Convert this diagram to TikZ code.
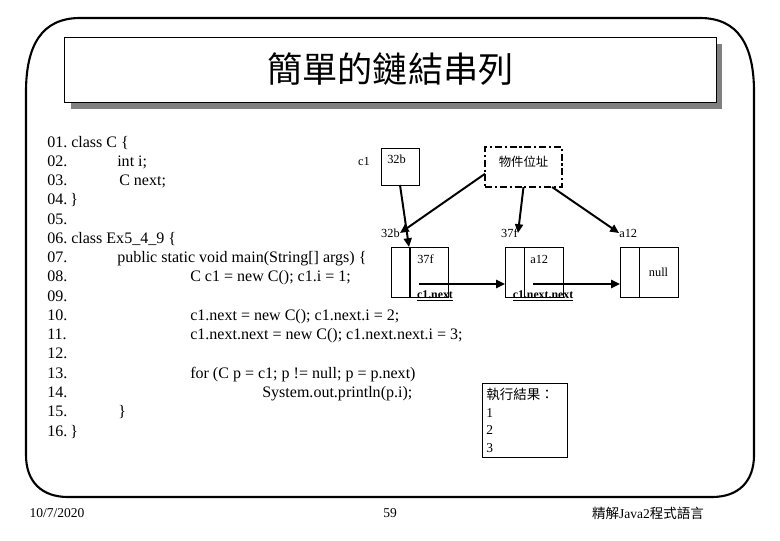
\documentclass[tikz,border=0pt]{standalone}
\usepackage{fontspec}
\setmainfont{Liberation Serif}
\newfontfamily\cjk{Noto Sans CJK TC}
\usetikzlibrary{arrows.meta,positioning,shadows}

\begin{document}
\begin{tikzpicture}[x=0.025cm, y=-0.025cm,
  code/.style={anchor=base west, inner sep=0pt, font=\fontsize{11.4}{13.7}\selectfont},
  small/.style={font=\fontsize{8.8}{10}\selectfont, inner sep=0pt},
  tag/.style={font=\fontsize{8.4}{10}\selectfont\bfseries, inner sep=0pt},
  foot/.style={font=\fontsize{9.6}{11}\selectfont, inner sep=0pt},
  cell/.style={draw, line width=0.6pt, outer sep=0pt, inner sep=0pt, minimum height=1.25cm},
  ptr/.style={-{Triangle[length=2.2mm, width=2mm]}, line width=1.4pt}
]
\useasboundingbox (0,0) rectangle (780,540);

% Slide frame
\draw[line width=1.5pt] (26,455) -- (26,92) .. controls (26,45) and (42,18) .. (80,18)
  -- (700,18) .. controls (738,18) and (754,45) .. (754,92) -- (754,455)
  .. controls (754,482) and (738,497) .. (712,497) -- (68,497)
  .. controls (42,497) and (26,482) .. (26,455) -- cycle;

% Title
\node[draw, line width=0.7pt, fill=white, minimum width=16.275cm, minimum height=1.625cm,
  drop shadow={shadow xshift=0.16cm, shadow yshift=-0.17cm, fill=black!50, opacity=1}]
  (title) at (390.5,69.5) {\cjk\fontsize{25}{30}\selectfont 簡單的鏈結串列};

% Source listing
\foreach \k in {1,...,16}
  \node[code] (num\k) at (47,{147+(\k-1)*19.27}) {\ifnum\k<10 0\fi\k.};
\foreach \k/\cx/\txt in {1/71/{class C \{}, 2/117/{int i;}, 3/119/{C next;}, 4/70/{\}},
    6/71/{class Ex5\_4\_9 \{}, 7/117/{public static void main(String[] args) \{},
    8/190/{C c1 = new C(); c1.i = 1;}, 10/190/{c1.next = new C(); c1.next.i = 2;},
    11/190/{c1.next.next = new C(); c1.next.next.i = 3;},
    13/190/{for (C p = c1; p != null; p = p.next)}, 14/262/{System.out.println(p.i);},
    15/118/{\}}, 16/70/{\}}}
  \node[code] (src\k) at (\cx,{147+(\k-1)*19.27}) {\txt};

% Reference variable and address note
\node[small] (c1name) at (364,161) {c1};
\node[cell, minimum width=0.95cm, minimum height=0.925cm,
  label={[small, anchor=north west, xshift=0.15cm, yshift=-0.16cm]north west:32b}] (c1box) at (400,166.5) {};
\node[draw, line width=1.3pt, dash pattern=on 5pt off 2pt on 1.5pt off 2pt, outer sep=0pt,
  minimum width=1.925cm, minimum height=1cm,
  label={[small, anchor=north, yshift=-0.22cm]north:{\cjk 物件位址}}] (addr) at (523.5,167) {};

% Addresses
\node[small, anchor=east] (adr1) at (400,233) {32b};
\node[small, anchor=east] (adr2) at (518,233) {37f};
\node[small, anchor=west] (adr3) at (619,233) {a12};

% List nodes
\node[cell, minimum width=0.475cm] (n1a) at (400.5,272) {};
\node[cell, minimum width=0.975cm,
  label={[small, anchor=north west, xshift=0.2cm, yshift=-0.2cm]north west:37f}] (n1b) at (428.5,272) {};
\node[cell, minimum width=0.475cm] (n2a) at (514.5,272) {};
\node[cell, minimum width=0.975cm,
  label={[small, anchor=north west, xshift=0.15cm, yshift=-0.2cm]north west:a12}] (n2b) at (543.5,272) {};
\node[cell, minimum width=0.475cm] (n3a) at (629.5,272) {};
\node[cell, minimum width=0.975cm, font=\fontsize{8.8}{10}\selectfont] (n3b) at (658.5,272) {null};

\node[tag] (nx1) at (435,296) {\underline{c1.next}};
\node[tag] (nx2) at (543,296) {\underline{c1.next.next}};

% Pointers
\draw[ptr] (c1box.south) -- (n1b.north west);
\draw[ptr] (addr.190) -- (adr1.east);
\draw[ptr] (addr.south) -- (adr2.east);
\draw[ptr] (addr.-35) -- (adr3.west);
\coordinate (p1) at (419,284);
\coordinate (p2) at (533,284);
\draw[ptr] (p1) -- (p1 -| n2a.west);
\draw[ptr] (p2) -- (p2 -| n3a.west);

% Output
\node[draw, line width=0.6pt, anchor=north west, align=left, text width=1.925cm, inner xsep=0.1cm,
  minimum height=1.85cm, font=\fontsize{9.6}{12.4}\selectfont] (out) at (482,383)
  {{\cjk 執行結果：}\\1\\2\\3};

% Footer
\node[foot] (date) at (57,513) {10/7/2020};
\node[foot] (page) at (390,513) {59};
\node[foot] (book) at (648,513) {{\cjk 精解}Java2{\cjk 程式語言}};

\end{tikzpicture}
\end{document}
